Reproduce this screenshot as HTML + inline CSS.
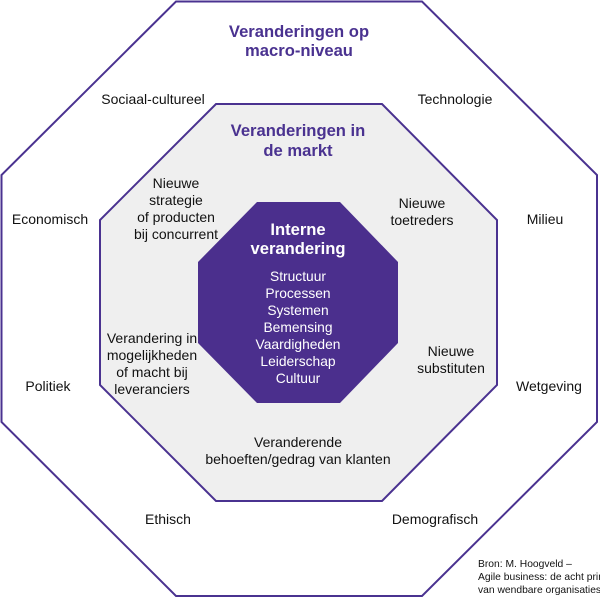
<!DOCTYPE html>
<html><head><style>
body{margin:0;background:#fff;}
svg text{font-family:"Liberation Sans",Arial,sans-serif;}
</style></head><body>
<svg width="600" height="601" viewBox="0 0 600 601" xmlns="http://www.w3.org/2000/svg">
<polygon points="176,1.5 422,1.5 597,175 597,422 422,596 176,596 1.5,422 1.5,175" fill="#fff" stroke="#4a3290" stroke-width="2"/>
<polygon points="216,104 382,104 497,220 497,385 382,501 216,501 100,385 100,220" fill="#efefef" stroke="#4a3290" stroke-width="2"/>
<polygon points="257,202 340,202 398,262 398,343 340,403 257,403 198,343 198,262" fill="#4b2f8d"/>
<g fill="#4a3290" font-weight="bold" font-size="16.6" text-anchor="middle">
<text x="299" y="37">Veranderingen op</text>
<text x="299" y="56">macro-niveau</text>
<text x="298" y="136">Veranderingen in</text>
<text x="298" y="156">de markt</text>
</g>
<g fill="#fff" text-anchor="middle">
<text x="298" y="235" font-weight="bold" font-size="16.6">Interne</text>
<text x="298" y="254" font-weight="bold" font-size="16.6">verandering</text>
<g font-size="13.8">
<text x="298" y="281">Structuur</text>
<text x="298" y="298">Processen</text>
<text x="298" y="315">Systemen</text>
<text x="298" y="332">Bemensing</text>
<text x="298" y="349">Vaardigheden</text>
<text x="298" y="366">Leiderschap</text>
<text x="298" y="383">Cultuur</text>
</g></g>
<g fill="#111" font-size="14" text-anchor="middle">
<text x="153" y="104">Sociaal-cultureel</text>
<text x="455" y="104">Technologie</text>
<text x="50" y="224">Economisch</text>
<text x="545" y="224">Milieu</text>
<text x="48" y="391">Politiek</text>
<text x="549" y="391">Wetgeving</text>
<text x="168" y="524">Ethisch</text>
<text x="435" y="524">Demografisch</text>
<text x="176" y="188">Nieuwe</text>
<text x="176" y="205">strategie</text>
<text x="176" y="222">of producten</text>
<text x="176" y="239">bij concurrent</text>
<text x="422" y="208">Nieuwe</text>
<text x="422" y="225">toetreders</text>
<text x="152" y="343">Verandering in</text>
<text x="152" y="360">mogelijkheden</text>
<text x="152" y="377">of macht bij</text>
<text x="152" y="394">leveranciers</text>
<text x="451" y="356">Nieuwe</text>
<text x="451" y="373">substituten</text>
<text x="298" y="447">Veranderende</text>
<text x="298" y="464">behoeften/gedrag van klanten</text>
</g>
<g fill="#111" font-size="10.3">
<text x="478" y="567">Bron: M. Hoogveld –</text>
<text x="478" y="580">Agile business: de acht principes</text>
<text x="478" y="593">van wendbare organisaties</text>
</g>
</svg>
</body></html>
